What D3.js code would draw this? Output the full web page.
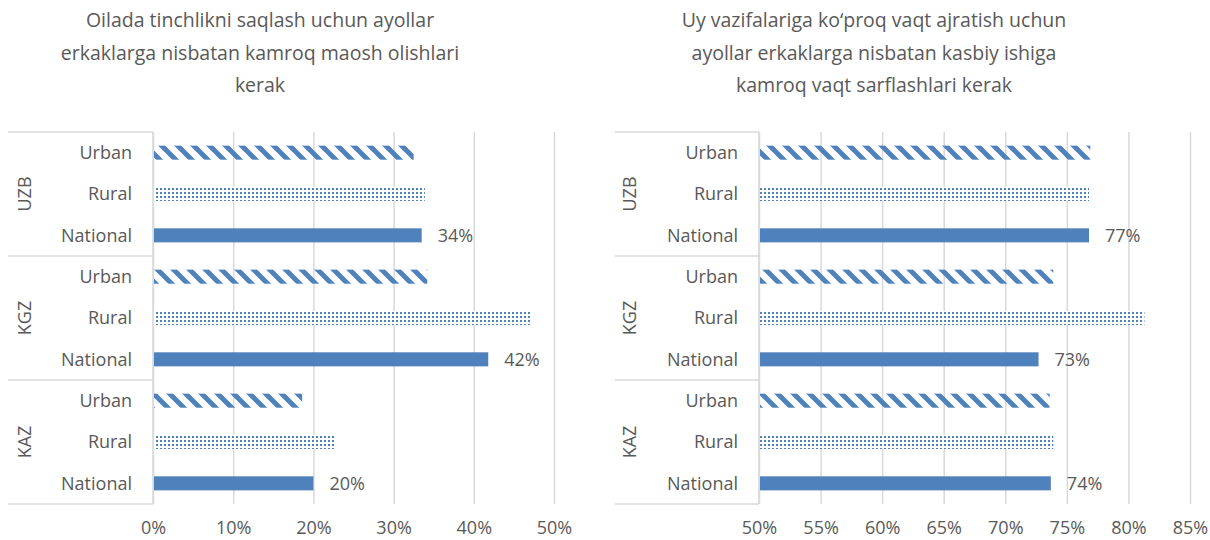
<!DOCTYPE html>
<html>
<head>
<meta charset="utf-8">
<script src="https://cdn.jsdelivr.net/npm/d3@7"></script>
<style>
    body { margin: 0; background: #fff; }
    svg { font-family: "Open Sans", sans-serif; }
    .title { fill: #595959; font-size: 19.5px; }
    .lbl { fill: #595959; font-size: 18px; }
    .grid line { stroke: #d9d9d9; stroke-width: 1.5; }
    .grid path { display: none; }
    .ticks path, .ticks line { display: none; }
    .ticks text { fill: #595959; font-size: 18px; font-family: "Open Sans", sans-serif; }
    .frame { stroke: #d9d9d9; stroke-width: 1.5; }
</style>
</head>
<body>
<svg width="1210" height="540"></svg>
<script>
var groups = ["UZB", "KGZ", "KAZ"];
var areas = ["Urban", "Rural", "National"];

// left panel: share agreeing women should earn less (UZB, KGZ, KAZ)
var payTitle = ["Oilada tinchlikni saqlash uchun ayollar",
    "erkaklarga nisbatan kamroq maosh olishlari",
    "kerak"];
var payUrban = [0.325, 0.342, 0.186];
var payRural = [0.339, 0.470, 0.226];
var payNational = [0.335, 0.418, 0.200];
var payTicks = [0, 0.1, 0.2, 0.3, 0.4, 0.5];

// right panel: share agreeing women should spend less time on work
var workTitle = ["Uy vazifalariga ko\u2018proq vaqt ajratish uchun",
    "ayollar erkaklarga nisbatan kasbiy ishiga",
    "kamroq vaqt sarflashlari kerak"];
var workUrban = [0.769, 0.739, 0.736];
var workRural = [0.768, 0.813, 0.739];
var workNational = [0.768, 0.727, 0.737];
var workTicks = [0.5, 0.55, 0.6, 0.65, 0.7, 0.75, 0.8, 0.85];

var svg = d3.select("svg");
var blue = "#4f81bd";

var defs = svg.append("defs");
defs.append("pattern")
    .attr("id", "stripes")
    .attr("patternUnits", "userSpaceOnUse")
    .attr("width", 16)
    .attr("height", 16)
    .append("path")
    .attr("d", "M-4,-4L20,20M-12,4L4,20M4,-12L20,4")
    .attr("stroke", blue)
    .attr("stroke-width", 5);

var dots = defs.append("pattern")
    .attr("id", "dots")
    .attr("patternUnits", "userSpaceOnUse")
    .attr("width", 4)
    .attr("height", 4);
dots.append("rect").attr("width", 4).attr("height", 4).attr("fill", "#fff");
dots.append("rect").attr("width", 2).attr("height", 2).attr("fill", blue);

var fills = { "Urban": "url(#stripes)", "Rural": "url(#dots)", "National": blue };

function rows(urban, rural, national) {
    var out = [];
    groups.forEach(function (g, i) {
        out.push({ group: g, area: "Urban", value: urban[i] });
        out.push({ group: g, area: "Rural", value: rural[i] });
        out.push({ group: g, area: "National", value: national[i] });
    });
    return out;
}

function drawPanel(opt) {
    var data = rows(opt.urban, opt.rural, opt.national);
    var top = 132, bottom = 504;

    var x = d3.scaleLinear().domain(opt.domain).range([opt.x0, opt.x1]);
    var y = d3.scaleBand()
        .domain(data.map(function (d) { return d.group + "|" + d.area; }))
        .range([top, bottom])
        .paddingInner(0.66)
        .paddingOuter(0.33);
    var groupY = d3.scaleBand().domain(groups).range([top, bottom]);

    var g = svg.append("g");

    g.append("g")
        .selectAll("text")
        .data(opt.title)
        .enter().append("text")
        .attr("class", "title")
        .attr("x", opt.titleX)
        .attr("y", function (d, i) { return 27 + i * 32.5; })
        .attr("text-anchor", "middle")
        .text(function (d) { return d; });

    g.append("g")
        .attr("class", "grid")
        .attr("transform", "translate(0," + bottom + ")")
        .call(d3.axisBottom(x).tickValues(opt.ticks).tickSize(-(bottom - top)).tickFormat(""));

    // multi level category frame
    var edges = groups.map(function (d) { return groupY(d); }).concat([bottom]);
    g.selectAll("line.edge")
        .data(edges)
        .enter().append("line")
        .attr("class", "frame")
        .attr("x1", opt.boxLeft)
        .attr("x2", opt.x0)
        .attr("y1", function (d) { return d; })
        .attr("y2", function (d) { return d; });
    g.append("line")
        .attr("class", "frame")
        .attr("x1", opt.x0).attr("x2", opt.x0)
        .attr("y1", top).attr("y2", bottom);

    g.selectAll("text.grp")
        .data(groups)
        .enter().append("text")
        .attr("class", "lbl")
        .attr("transform", function (d) {
            return "translate(" + opt.groupX + "," + (groupY(d) + groupY.bandwidth() / 2) + ") rotate(-90)";
        })
        .attr("text-anchor", "middle")
        .attr("dy", "0.35em")
        .text(function (d) { return d; });

    g.selectAll("text.cat")
        .data(data)
        .enter().append("text")
        .attr("class", "lbl")
        .attr("x", opt.x0 - 21)
        .attr("y", function (d) { return y(d.group + "|" + d.area) + y.bandwidth() / 2; })
        .attr("dy", "0.35em")
        .attr("text-anchor", "end")
        .text(function (d) { return d.area; });

    g.selectAll("rect.bar")
        .data(data)
        .enter().append("rect")
        .attr("x", x(opt.domain[0]) + 1)
        .attr("y", function (d) { return y(d.group + "|" + d.area); })
        .attr("width", function (d) { return x(d.value) - x(opt.domain[0]) - 1; })
        .attr("height", y.bandwidth())
        .attr("fill", function (d) { return fills[d.area]; });

    g.selectAll("text.val")
        .data(data.filter(function (d) { return d.area === "National"; }))
        .enter().append("text")
        .attr("class", "lbl")
        .attr("x", function (d) { return x(d.value) + 16; })
        .attr("y", function (d) { return y(d.group + "|" + d.area) + y.bandwidth() / 2; })
        .attr("dy", "0.35em")
        .text(function (d) { return Math.round(d.value * 100) + "%"; });

    g.append("g")
        .attr("class", "ticks")
        .attr("transform", "translate(0," + bottom + ")")
        .call(d3.axisBottom(x).tickValues(opt.ticks).tickSize(0).tickPadding(17).tickFormat(d3.format(".0%")));
}

drawPanel({
    title: payTitle, titleX: 260,
    urban: payUrban, rural: payRural, national: payNational,
    domain: [0, 0.5], ticks: payTicks,
    x0: 153, x1: 554, boxLeft: 8, groupX: 25
});

drawPanel({
    title: workTitle, titleX: 874,
    urban: workUrban, rural: workRural, national: workNational,
    domain: [0.5, 0.85], ticks: workTicks,
    x0: 759, x1: 1190, boxLeft: 615, groupX: 630
});
</script>
</body>
</html>
